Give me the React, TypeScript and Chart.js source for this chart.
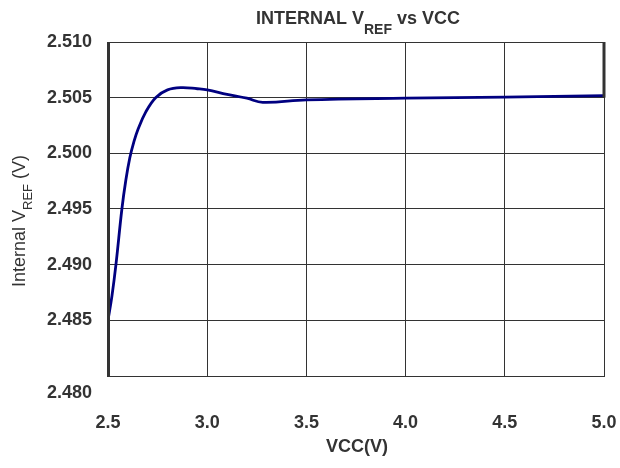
import React, { useEffect, useRef } from "react";
import { Chart, registerables } from "chart.js";

Chart.register(...registerables);

const vcc = [2.5, 2.52, 2.54, 2.57, 2.59, 2.61, 2.63, 2.65, 2.69, 2.74, 2.8, 2.87, 2.95, 3.0, 3.1, 3.2, 3.28, 3.5, 4.0, 4.5, 5.0];
const vref = [2.485, 2.4872, 2.49, 2.495, 2.4976, 2.4996, 2.5010, 2.5021, 2.5037, 2.505, 2.5057, 2.5059, 2.5058, 2.5057, 2.5053, 2.50495, 2.50458, 2.5048, 2.50495, 2.50505, 2.50518];
const xTicks = [2.5, 3.0, 3.5, 4.0, 4.5, 5.0];
const yTickLabels = ["2.480", "2.485", "2.490", "2.495", "2.500", "2.505", "2.510"];

const TEXT = "#333333";
const FONT = '"Liberation Sans", Arial, sans-serif';

function drawParts(
  ctx: CanvasRenderingContext2D,
  parts: { t: string; font: string; dy: number }[],
  cx: number,
  cy: number
) {
  let total = 0;
  const widths = parts.map((p) => {
    ctx.font = p.font;
    const w = ctx.measureText(p.t).width;
    total += w;
    return w;
  });
  let x = cx - total / 2;
  parts.forEach((p, i) => {
    ctx.font = p.font;
    ctx.textAlign = "left";
    ctx.textBaseline = "alphabetic";
    ctx.fillText(p.t, x, cy + p.dy);
    x += widths[i];
  });
}

const decor = {
  id: "decor",
  afterDraw(chart: any) {
    const { ctx, chartArea, scales } = chart;
    ctx.save();
    ctx.fillStyle = TEXT;
    drawParts(
      ctx,
      [
        { t: "INTERNAL V", font: `bold 18px ${FONT}`, dy: 0 },
        { t: "REF", font: `bold 14px ${FONT}`, dy: 10 },
        { t: " vs VCC", font: `bold 18px ${FONT}`, dy: 0 },
      ],
      358,
      24
    );
    drawParts(ctx, [{ t: "VCC(V)", font: `bold 18px ${FONT}`, dy: 0 }], 357, 452);
    ctx.save();
    ctx.translate(25, 221);
    ctx.rotate(-Math.PI / 2);
    drawParts(
      ctx,
      [
        { t: "Internal V", font: `18px ${FONT}`, dy: 0 },
        { t: "REF", font: `13px ${FONT}`, dy: 7 },
        { t: " (V)", font: `18px ${FONT}`, dy: 0 },
      ],
      0,
      0
    );
    ctx.restore();
    const yBottom = scales.y.getPixelForValue(2.48);
    ctx.font = `bold 18px ${FONT}`;
    ctx.textAlign = "right";
    ctx.textBaseline = "middle";
    ctx.fillText(yTickLabels[0], chartArea.left - 16, yBottom + 17);
    ctx.strokeStyle = TEXT;
    ctx.lineWidth = 3;
    ctx.beginPath();
    ctx.moveTo(chartArea.left + 0.5, chartArea.top);
    ctx.lineTo(chartArea.left + 0.5, chartArea.bottom + 1);
    ctx.stroke();
    const y505 = scales.y.getPixelForValue(2.505);
    ctx.beginPath();
    ctx.moveTo(chartArea.right, chartArea.top);
    ctx.lineTo(chartArea.right, y505);
    ctx.stroke();
    ctx.restore();
  },
};

export default function App() {
  const ref = useRef<HTMLCanvasElement>(null);
  useEffect(() => {
    if (!ref.current) return;
    const chart = new Chart(ref.current, {
      type: "line",
      data: {
        datasets: [
          {
            data: vcc.map((x, i) => ({ x, y: vref[i] })),
            borderColor: "#000080",
            borderWidth: 2.8,
            pointRadius: 0,
            tension: 0.4,
            fill: false,
          },
        ],
      },
      options: {
        animation: false,
        responsive: true,
        maintainAspectRatio: false,
        layout: { padding: { top: 42, right: 16, left: 0, bottom: 0 } },
        plugins: { legend: { display: false }, tooltip: { enabled: false }, title: { display: false } },
        scales: {
          x: {
            type: "linear",
            min: 2.5,
            max: 5.0,
            afterBuildTicks: (s: any) => {
              s.ticks = xTicks.map((v) => ({ value: v }));
            },
            afterFit: (s: any) => {
              s.height = 92;
              s.paddingLeft = 0;
              s.paddingRight = 0;
            },
            ticks: {
              callback: (v: any) => Number(v).toFixed(1),
              font: { family: FONT, size: 18, weight: "bold" },
              color: TEXT,
              padding: 36,
              maxRotation: 0,
            },
            grid: { color: TEXT, lineWidth: 1, drawTicks: false },
            border: { color: TEXT, width: 1 },
          },
          y: {
            type: "linear",
            min: 2.48,
            max: 2.51,
            afterBuildTicks: (s: any) => {
              s.ticks = yTickLabels.map((t) => ({ value: parseFloat(t) }));
            },
            afterFit: (s: any) => {
              s.width = 108;
              s.paddingTop = 0;
              s.paddingBottom = 0;
            },
            ticks: {
              callback: (v: any, i: number) => (i === 0 ? "" : yTickLabels[i]),
              font: { family: FONT, size: 18, weight: "bold" },
              color: TEXT,
              padding: 16,
            },
            grid: { color: TEXT, lineWidth: 1, drawTicks: false },
            border: { color: TEXT, width: 1 },
          },
        },
      },
      plugins: [decor],
    } as any);
    return () => chart.destroy();
  }, []);
  return (
    <div style={{ position: "absolute", left: 0, top: 0, width: 620, height: 468 }}>
      <canvas ref={ref} />
    </div>
  );
}
